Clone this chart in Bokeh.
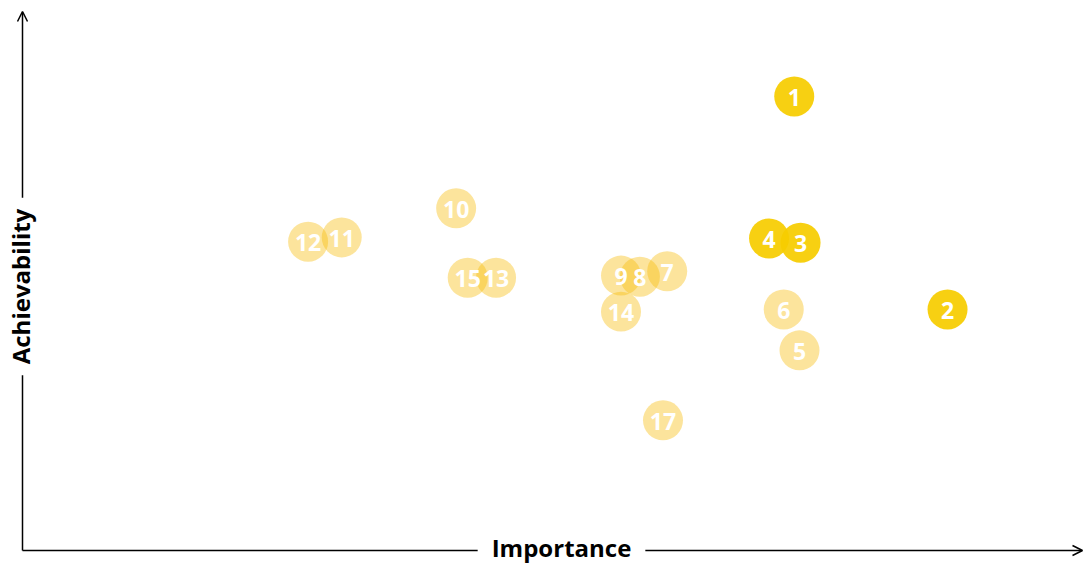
import math
from bokeh.plotting import figure
from bokeh.models import ColumnDataSource, Range1d, Arrow, OpenHead, Label
from bokeh.core.properties import value
from bokeh.embed import file_html
from bokeh.resources import INLINE

# ---- data ----
ids = ["1", "2", "3", "4", "5", "6", "7", "8", "9", "10", "11", "12", "13", "14", "15", "17"]
importance = [7.35, 8.81, 7.41, 7.11, 7.40, 7.25, 6.14, 5.88, 5.70, 4.13, 3.04, 2.72, 4.51, 5.70, 4.24, 6.10]
achievability = [8.44, 4.48, 5.72, 5.80, 3.72, 4.48, 5.19, 5.09, 5.11, 6.36, 5.82, 5.74, 5.07, 4.44, 5.07, 2.42]
highlight = [True, True, True, True, False, False, False, False, False, False, False, False, False, False, False, False]

colors = ["#F6CC00" if h else "#F7BB07" for h in highlight]
alphas = [0.93 if h else 0.4 for h in highlight]

src = ColumnDataSource(dict(x=importance, y=achievability, label=ids, color=colors, alpha=alphas))

W, H = 1084, 563
OX, OY = 22, 13          # axis origin offset in px (from left / from bottom)
SX, SY = 105.0, 53.8     # px per data unit
p = figure(width=W, height=H, output_backend="svg", toolbar_location=None,
           x_range=Range1d(-OX / SX, (W - OX) / SX),
           y_range=Range1d(-OY / SY, (H - OY) / SY),
           x_axis_location=None, y_axis_location=None,
           min_border=0, outline_line_color=None,
           background_fill_color="white", border_fill_color="white")
p.xgrid.visible = False
p.ygrid.visible = False

# axes with arrows
p.add_layout(Arrow(x_start=0, y_start=0, x_end=(W - 2 - OX) / SX, y_end=0,
                   line_color="black", line_width=1.5,
                   end=OpenHead(size=10, line_color="black", line_width=1.5)))
p.add_layout(Arrow(x_start=0, y_start=0, x_end=0, y_end=(H - OY - 11) / SY,
                   line_color="black", line_width=1.5,
                   end=OpenHead(size=10, line_color="black", line_width=1.5)))

p.add_layout(Label(x=(561 - OX) / SX, y=0, text="Importance", y_offset=3,
                   text_font="Open Sans", text_font_style="bold", text_font_size="24px",
                   text_color="black", text_align="center", text_baseline="middle",
                   background_fill_color="white", padding=14))
p.add_layout(Label(x=0, y=(H - OY - 286) / SY, text="Achievability", angle=math.pi / 2,
                   x_offset=-2,
                   text_font="Open Sans", text_font_style="bold", text_font_size="24px",
                   text_color="black", text_align="center", text_baseline="middle",
                   background_fill_color="white", padding=11))

p.scatter("x", "y", source=src, size=40, marker="circle",
          fill_color="color", fill_alpha="alpha", line_color=None)
p.text("x", "y", text="label", source=src, text_color="white",
       text_font=value("Open Sans"), text_font_style="bold", text_font_size="23px",
       text_align="center", text_baseline="middle", y_offset=1)

open("out.html", "w").write(file_html(p, INLINE))
